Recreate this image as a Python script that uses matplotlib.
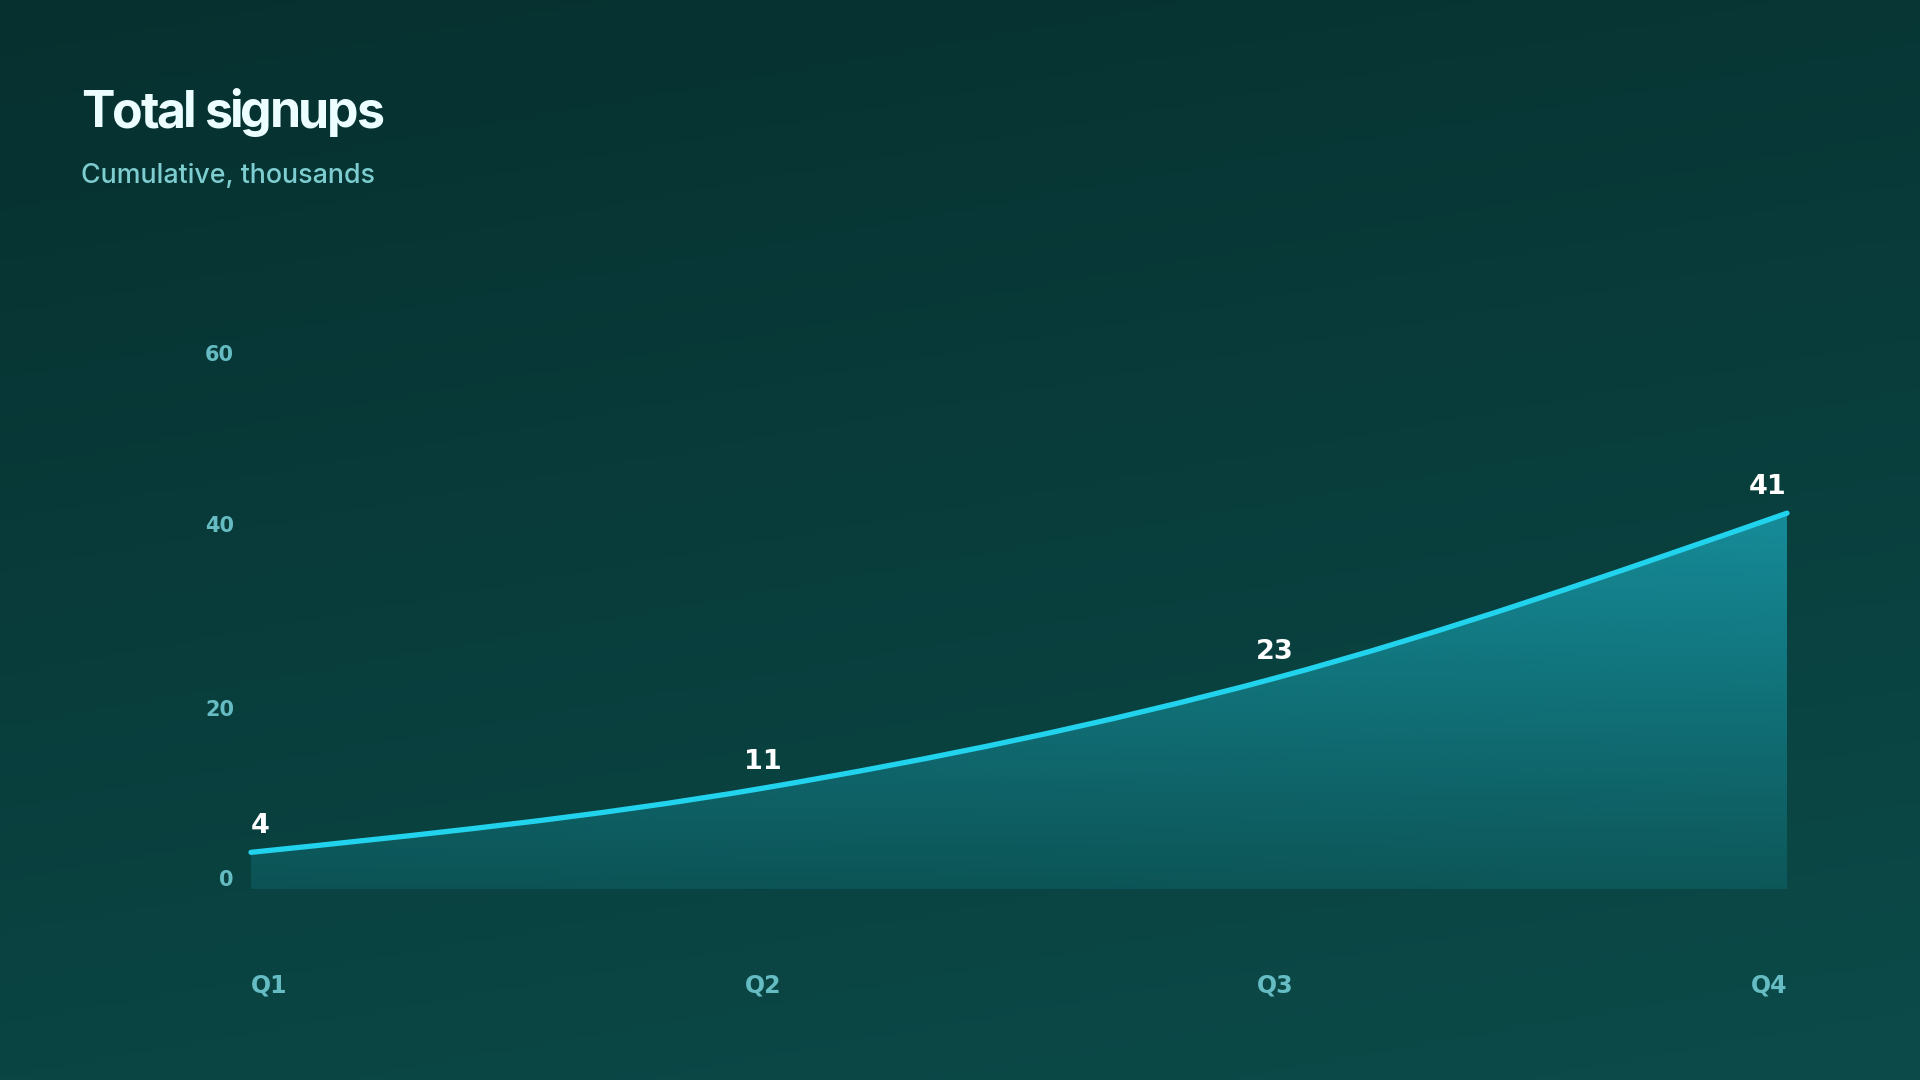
import numpy as np
import matplotlib
matplotlib.use("Agg")
import matplotlib.pyplot as plt
from matplotlib.path import Path
from matplotlib.patches import PathPatch
from matplotlib.colors import to_rgb

# ---- data ----
quarters = ["Q1", "Q2", "Q3", "Q4"]
signups = [4, 11, 23, 41]          # cumulative, thousands
y_ticks = [0, 20, 40, 60]

TITLE = "Total signups"
SUBTITLE = "Cumulative, thousands"

BG_TOP = "#06302f"
BG_BOT = "#0b4a48"
LINE = "#22d3ee"
TITLE_C = "#ecfeff"
SUB_C = "#7ecdd0"
TICK_C = "#65bcc2"
LABEL_FONT = ["DejaVu Sans"]

plt.rcParams["font.family"] = ["Inter", "DejaVu Sans"]

W, H = 1920, 1080
fig = plt.figure(figsize=(W/100, H/100), dpi=100)

# ---- background gradient (diagonal) ----
bg = fig.add_axes([0, 0, 1, 1], zorder=0)
gy, gx = np.mgrid[0:1:200j, 0:1:360j]
t = np.clip(0.8*gy + 0.25*gx, 0, 1)[..., None]
img = (1-t)*np.array(to_rgb(BG_TOP)) + t*np.array(to_rgb(BG_BOT))
bg.imshow(img, aspect="auto", extent=[0, 1, 0, 1], origin="upper")
bg.set_axis_off()

# ---- plot axes ----
x0, x1, ytop, ybot = 251, 1787, 339, 889
ax = fig.add_axes([x0/W, 1-ybot/H, (x1-x0)/W, (ybot-ytop)/H], zorder=1)
ax.set_xlim(0, len(quarters)-1)
ax.set_ylim(y_ticks[0], y_ticks[-1])
ax.set_axis_off()
ax.patch.set_alpha(0)

xs = np.arange(len(signups), dtype=float)
ys = np.array(signups, dtype=float)

# monotone-x cubic (same shape as d3.curveMonotoneX)
h = np.diff(xs); s = np.diff(ys)/h
tang = np.zeros_like(ys)
for i in range(1, len(ys)-1):
    p = (s[i-1]*h[i] + s[i]*h[i-1])/(h[i-1]+h[i])
    tang[i] = (np.sign(s[i-1])+np.sign(s[i]))*min(abs(s[i-1]), abs(s[i]), 0.5*abs(p))
tang[0] = (3*s[0]-tang[1])/2
tang[-1] = (3*s[-1]-tang[-2])/2
verts = [(xs[0], ys[0])]; codes = [Path.MOVETO]
for i in range(len(xs)-1):
    dx = h[i]/3
    verts += [(xs[i]+dx, ys[i]+dx*tang[i]), (xs[i+1]-dx, ys[i+1]-dx*tang[i+1]), (xs[i+1], ys[i+1])]
    codes += [Path.CURVE4]*3
line_path = Path(verts, codes)
area_path = Path(verts + [(xs[-1], 0), (xs[0], 0), (xs[0], ys[0])],
                 codes + [Path.LINETO, Path.LINETO, Path.CLOSEPOLY])

# area gradient fill
n = 256
alpha = np.linspace(0.52, 0.12, n)[:, None]
grad = np.zeros((n, 2, 4))
grad[..., :3] = to_rgb(LINE)
grad[..., 3] = alpha
im = ax.imshow(grad, aspect="auto", extent=[xs[0], xs[-1], 0, ys.max()],
               origin="upper", zorder=2, interpolation="bilinear")
clip = PathPatch(area_path, transform=ax.transData, facecolor="none", edgecolor="none")
ax.add_patch(clip)
im.set_clip_path(clip)

ax.add_patch(PathPatch(line_path, facecolor="none", edgecolor=LINE, lw=3.8,
                       capstyle="round", zorder=3, clip_on=False))

# value labels (first/last flush to the ends)
for i, v in enumerate(signups):
    ha = "left" if i == 0 else ("right" if i == len(signups)-1 else "center")
    ax.annotate(str(v), (xs[i], v), xytext=(0, 19), textcoords="offset pixels",
                ha=ha, va="baseline", fontsize=19.5, fontweight="bold",
                family=LABEL_FONT, color="white", zorder=4)

# y tick labels (flush at ends)
for j, tv in enumerate(y_ticks):
    if j == 0:
        off = 3
    elif j == len(y_ticks)-1:
        off = -22
    else:
        off = -10
    ax.annotate(str(tv), (0, tv), xytext=(-17, off), textcoords="offset pixels",
                ha="right", va="baseline", fontsize=15, fontweight="bold",
                family=LABEL_FONT, color=TICK_C, annotation_clip=False)

# x tick labels
for i, q in enumerate(quarters):
    ha = "left" if i == 0 else ("right" if i == len(quarters)-1 else "center")
    ax.annotate(q, (xs[i], 0), xytext=(0, -104), textcoords="offset pixels",
                ha=ha, va="baseline", fontsize=17, fontweight="bold",
                family=LABEL_FONT, color=TICK_C, annotation_clip=False)

# ---- titles ----
# title has tight tracking: place glyphs one by one from measured prefix widths
renderer = fig.canvas.get_renderer()
track = 2.4  # px removed per glyph
tx, tbase = 81, 127
for i, ch in enumerate(TITLE):
    if ch == " ":
        continue
    if i:
        probe = fig.text(0, 0, TITLE[:i] + "|", fontsize=36, fontweight="bold")
        bar = fig.text(0, 0, "|", fontsize=36, fontweight="bold")
        pw = probe.get_window_extent(renderer).width - bar.get_window_extent(renderer).width
        probe.remove(); bar.remove()
    else:
        pw = 0
    fig.text((tx + pw - i*track)/W, 1-tbase/H, ch, fontsize=36, fontweight="bold",
             color=TITLE_C, va="baseline", ha="left")

fig.text(81/W, 1-183/H, SUBTITLE, fontsize=19.3, fontweight="medium", color=SUB_C,
         va="baseline", ha="left")

fig.savefig("out.png", dpi=100)
